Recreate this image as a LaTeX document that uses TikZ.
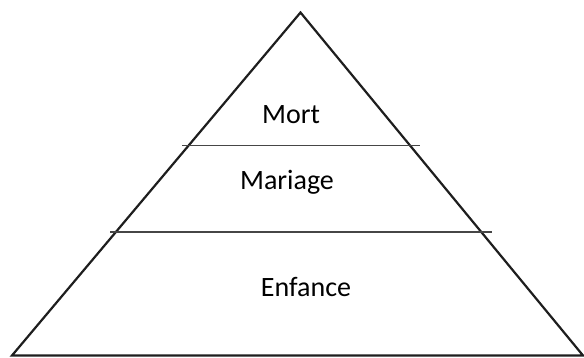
\documentclass[tikz,border=0pt]{standalone}
\usepackage{fontspec}
\setmainfont{Carlito}
\usetikzlibrary{positioning}
\definecolor{EdgeGray}{RGB}{30,30,30}
\definecolor{BandGray}{RGB}{70,70,70}

\begin{document}
\begin{tikzpicture}[x=1pt, y=-1pt, every node/.style={font=\fontsize{28}{32}\selectfont, inner sep=0pt, anchor=base}]
\tikzset{
  edge/.style={draw, line width=2.2pt, EdgeGray},
  band/.style={draw, line width=1.6pt, BandGray},
  stage/.style={text=black}
}
  \useasboundingbox (0,0) rectangle (584,358);
  % pyramid outline
  \coordinate (apex) at (300.5,12.5);
  \coordinate (left) at (12,355.5);
  \coordinate (right) at (583,355.5);
  \draw[edge, line join=miter] (apex) -- (right) -- (left) -- cycle;
  % separating lines
  \coordinate (top1) at (182,145.5);
  \coordinate (top2) at (420,145.5);
  \coordinate (mid1) at (110,232);
  \coordinate (mid2) at (492,232);
  \draw[band] (top1) -- (top2);
  \draw[band] (mid1) -- (mid2);
  % labels
  \node[stage] (mort) at (291,123.5) {Mort};
  \node[stage] (mariage) at (287,190) {Mariage};
  \node[stage] (enfance) at (306,296.5) {Enfance};
\end{tikzpicture}
\end{document}
